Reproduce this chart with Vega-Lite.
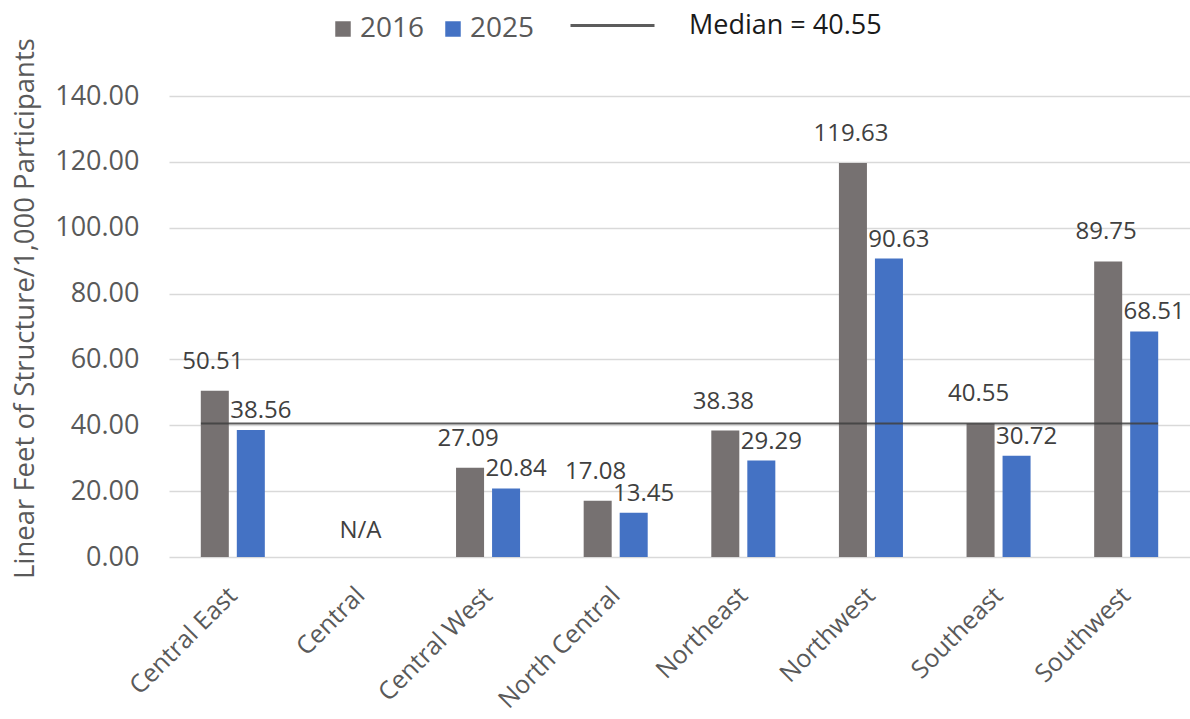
{
  "$schema": "https://vega.github.io/schema/vega-lite/v6.json",
  "autosize": {"type": "none"},
  "padding": {"left": 169, "top": 96, "right": 0, "bottom": 162},
  "width": 1021,
  "height": 461,
  "config": {
    "font": "Open Sans",
    "view": {"stroke": null},
    "axis": {"grid": false, "ticks": false, "domain": false}
  },
  "datasets": {
    "regions": [
      {"region": "Central East", "year": "2016", "value": 50.51},
      {"region": "Central East", "year": "2025", "value": 38.56},
      {"region": "Central West", "year": "2016", "value": 27.09},
      {"region": "Central West", "year": "2025", "value": 20.84},
      {"region": "North Central", "year": "2016", "value": 17.08},
      {"region": "North Central", "year": "2025", "value": 13.45},
      {"region": "Northeast", "year": "2016", "value": 38.38},
      {"region": "Northeast", "year": "2025", "value": 29.29},
      {"region": "Northwest", "year": "2016", "value": 119.63},
      {"region": "Northwest", "year": "2025", "value": 90.63},
      {"region": "Southeast", "year": "2016", "value": 40.55},
      {"region": "Southeast", "year": "2025", "value": 30.72},
      {"region": "Southwest", "year": "2016", "value": 89.75},
      {"region": "Southwest", "year": "2025", "value": 68.51}
    ],
    "missing": [
      {"region": "Central", "note": "N/A", "base": 0}
    ],
    "median": [
      {"start": "Central East", "end": "Southwest", "median": 40.55, "label": "Median = 40.55"}
    ]
  },
  "layer": [
    {
      "data": {"name": "regions"},
      "mark": {"type": "bar"},
      "encoding": {
        "x": {
          "field": "region",
          "type": "nominal",
          "sort": null,
          "scale": {
            "domain": ["Central East", "Central", "Central West", "North Central", "Northeast", "Northwest", "Southeast", "Southwest"],
            "paddingInner": 0,
            "paddingOuter": 0
          },
          "axis": {
            "title": null,
            "labelAngle": -45,
            "labelAlign": "right",
            "labelBaseline": "middle",
            "labelPadding": 34,
            "labelFontSize": 25,
            "labelColor": "#595959"
          }
        },
        "xOffset": {
          "field": "year",
          "type": "nominal",
          "scale": {"domain": ["2016", "2025"], "paddingInner": 0.222, "paddingOuter": 0.883}
        },
        "y": {
          "field": "value",
          "type": "quantitative",
          "title": "Linear Feet of Structure/1,000 Participants",
          "scale": {"domain": [0, 140], "nice": false},
          "axis": {
            "values": [0, 20, 40, 60, 80, 100, 120, 140],
            "format": ".2f",
            "grid": true,
            "gridColor": "#d9d9d9",
            "gridWidth": 1.5,
            "labelFontSize": 27,
            "labelColor": "#595959",
            "labelPadding": 30,
            "titleFontSize": 27.5,
            "titleFontWeight": "normal",
            "titleColor": "#595959",
            "titleX": -144,
            "titleY": 212,
            "titleAlign": "center",
            "titleBaseline": "middle"
          }
        },
        "color": {
          "field": "year",
          "type": "nominal",
          "scale": {"domain": ["2016", "2025"], "range": ["#767171", "#4472c4"]},
          "legend": {
            "orient": "none",
            "legendX": 160,
            "legendY": -81,
            "direction": "horizontal",
            "title": null,
            "padding": 0,
            "symbolType": "square",
            "symbolSize": 240,
            "symbolStrokeWidth": 0,
            "symbolOpacity": 1,
            "labelFontSize": 28,
            "labelColor": "#595959",
            "labelOffset": 3,
            "columnPadding": 14
          }
        }
      }
    },
    {
      "data": {"name": "regions"},
      "transform": [{"filter": "datum.year === '2016'"}],
      "mark": {"type": "text", "fontSize": 24, "color": "#404040", "baseline": "alphabetic", "dx": -2, "dy": -22},
      "encoding": {
        "x": {"field": "region", "type": "nominal", "sort": null},
        "xOffset": {"field": "year", "type": "nominal"},
        "y": {"field": "value", "type": "quantitative", "title": "Linear Feet of Structure/1,000 Participants"},
        "text": {"field": "value", "type": "quantitative", "format": ".2f"}
      }
    },
    {
      "data": {"name": "regions"},
      "transform": [{"filter": "datum.year === '2025'"}],
      "mark": {"type": "text", "fontSize": 24, "color": "#404040", "baseline": "alphabetic", "dx": 10, "dy": -12},
      "encoding": {
        "x": {"field": "region", "type": "nominal", "sort": null},
        "xOffset": {"field": "year", "type": "nominal"},
        "y": {"field": "value", "type": "quantitative", "title": "Linear Feet of Structure/1,000 Participants"},
        "text": {"field": "value", "type": "quantitative", "format": ".2f"}
      }
    },
    {
      "data": {"name": "missing"},
      "mark": {"type": "text", "fontSize": 24, "color": "#404040", "baseline": "alphabetic", "dy": -19},
      "encoding": {
        "x": {"field": "region", "type": "nominal", "sort": null},
        "y": {"field": "base", "type": "quantitative", "title": "Linear Feet of Structure/1,000 Participants"},
        "text": {"field": "note", "type": "nominal"}
      }
    },
    {
      "data": {"name": "median"},
      "mark": {"type": "rule", "strokeWidth": 2, "opacity": 0.85},
      "encoding": {
        "x": {"field": "start", "type": "nominal", "sort": null, "bandPosition": 0.25},
        "x2": {"field": "end", "bandPosition": 0.75},
        "y": {"field": "median", "type": "quantitative", "title": "Linear Feet of Structure/1,000 Participants"},
        "stroke": {
          "field": "label",
          "type": "nominal",
          "scale": {"domain": ["Median = 40.55"], "range": ["#404040"]},
          "legend": {
            "orient": "none",
            "legendX": 400,
            "legendY": -114,
            "title": null,
            "padding": 0,
            "symbolType": "stroke",
            "symbolSize": 7056,
            "symbolStrokeWidth": 3,
            "symbolStrokeColor": "#6f6f6f",
            "labelFontSize": 27,
            "labelLimit": 400,
            "labelColor": "#1a1a1a",
            "labelOffset": 33
          }
        }
      }
    }
  ]
}
